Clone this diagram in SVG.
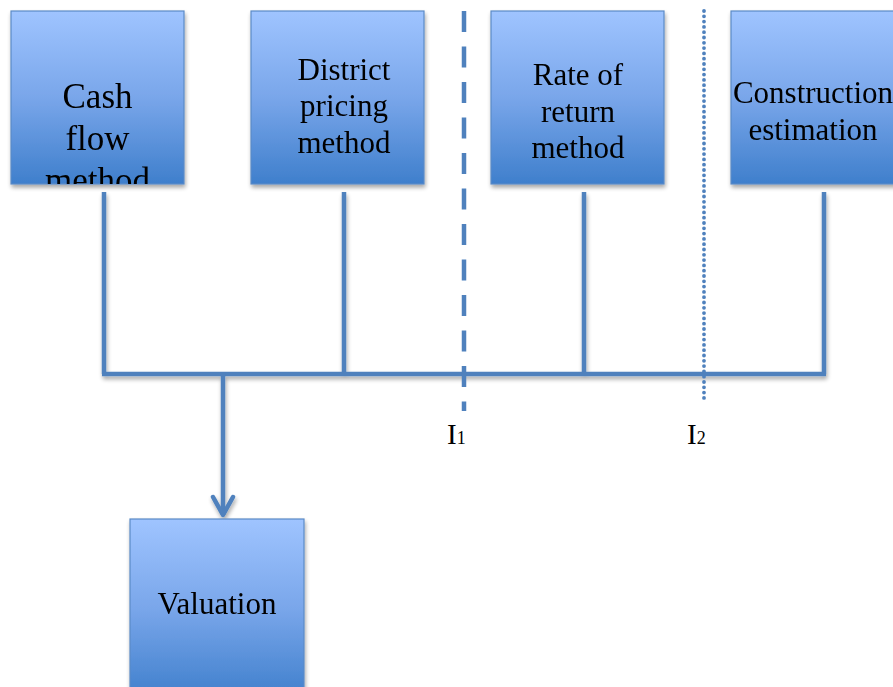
<svg xmlns="http://www.w3.org/2000/svg" width="893" height="687" viewBox="0 0 893 687">
<style>
.box{fill:url(#g);stroke:#5a8ac6;stroke-width:1.2}
.t{font-family:"Liberation Serif","Times New Roman",serif;font-size:31px;fill:#000;text-anchor:middle}
.ln{fill:none;stroke:#4f81bd;stroke-width:4.5}
</style>
<defs>
<linearGradient id="g" x1="0" y1="0" x2="0" y2="1">
<stop offset="0" stop-color="#9fc4ff"/>
<stop offset="0.5" stop-color="#79a6ea"/>
<stop offset="1" stop-color="#3f7fcc"/>
</linearGradient>
<filter id="sh" x="-10%" y="-10%" width="130%" height="130%">
<feGaussianBlur in="SourceAlpha" stdDeviation="2"/>
<feOffset dx="1" dy="3" result="b"/>
<feComponentTransfer><feFuncA type="linear" slope="0.35"/></feComponentTransfer>
<feMerge><feMergeNode/><feMergeNode in="SourceGraphic"/></feMerge>
</filter>
<clipPath id="c1"><rect x="11" y="11" width="173" height="173"/></clipPath>
</defs>

<g id="connectors" filter="url(#sh)">
<path class="ln" d="M104 192V374M344 192V374M584 192V374M824 192V374M102 374H826"/>
<path class="ln" d="M223 374V515"/>
<path class="ln" d="M213 497L223 515L233 497" stroke-linecap="round" stroke-linejoin="round"/>
</g>

<g id="dividers">
<line x1="464" y1="11" x2="464" y2="411" stroke="#4f81bd" stroke-width="4.5" stroke-dasharray="21 14.5"/>
<line x1="704" y1="11" x2="704" y2="403" stroke="#4f81bd" stroke-width="3.8" stroke-linecap="round" stroke-dasharray="0 5.3"/>
</g>

<g id="node-cash" filter="url(#sh)">
<rect class="box" x="11" y="11" width="173" height="173"/>
<g clip-path="url(#c1)">
<text class="t" style="font-size:35px" x="97.5" y="108">Cash</text>
<text class="t" style="font-size:35px" x="97.5" y="150">flow</text>
<text class="t" style="font-size:35px" x="97.5" y="192">method</text>
</g>
</g>

<g id="node-district" filter="url(#sh)">
<rect class="box" x="251" y="11" width="173" height="173"/>
<text class="t" x="344" y="80">District</text>
<text class="t" x="344" y="116">pricing</text>
<text class="t" x="344" y="153">method</text>
</g>

<g id="node-rate" filter="url(#sh)">
<rect class="box" x="491" y="11" width="173" height="173"/>
<text class="t" x="578" y="85">Rate of</text>
<text class="t" x="578" y="122">return</text>
<text class="t" x="578" y="158">method</text>
</g>

<g id="node-construction" filter="url(#sh)">
<rect class="box" x="731" y="11" width="173" height="173"/>
<text class="t" x="813" y="103">Construction</text>
<text class="t" x="813" y="140">estimation</text>
</g>

<g id="node-valuation" filter="url(#sh)">
<rect class="box" x="130" y="519" width="174" height="180"/>
<text class="t" x="217" y="614">Valuation</text>
</g>

<g id="labels" font-family="Liberation Serif, Times New Roman, serif" fill="#000">
<text x="447" y="444" font-size="29">I<tspan font-size="18">1</tspan></text>
<text x="687" y="444" font-size="29">I<tspan font-size="18">2</tspan></text>
</g>
</svg>
